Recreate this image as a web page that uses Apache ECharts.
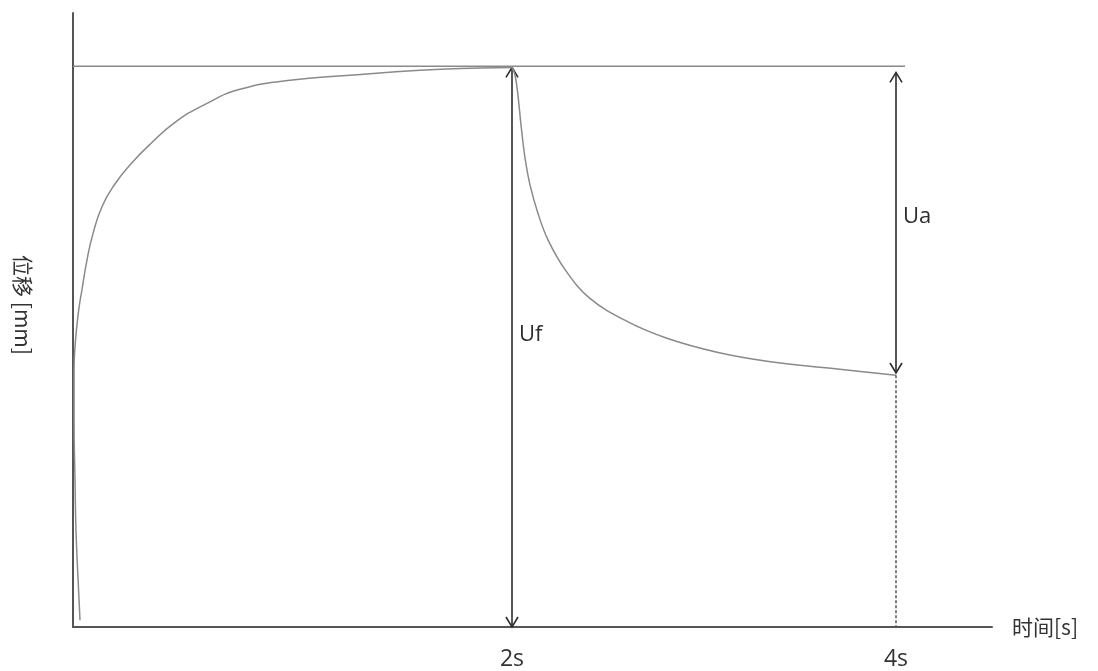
<!DOCTYPE html>
<html>
<head>
<meta charset="utf-8">
<script src="https://cdn.jsdelivr.net/npm/echarts@6/dist/echarts.min.js"></script>
<style>
  html, body { margin: 0; padding: 0; background: #fff; }
  #chart { width: 1098px; height: 671px; }
</style>
</head>
<body>
<div id="chart"></div>
<script>
// time in s, displacement in arbitrary mm units (sketch)
const loadT = [-0.250, -0.260, -0.271, -0.276, -0.281, -0.281, -0.276, -0.266, -0.255, -0.240, -0.214, -0.182, -0.135, -0.068, 0.010, 0.115, 0.245, 0.401, 0.583, 0.844, 1.156, 1.521, 1.833, 2.0]
const loadU = [0.12, 0.84, 1.73, 2.62, 3.69, 4.58, 4.99, 5.38, 5.70, 6.01, 6.54, 7.02, 7.50, 7.90, 8.24, 8.61, 9.00, 9.32, 9.59, 9.75, 9.84, 9.93, 9.97, 9.98]

const unloadT = [2.0, 2.016, 2.031, 2.047, 2.068, 2.094, 2.135, 2.188, 2.281, 2.406, 2.599, 2.807, 3.068, 3.328, 3.672, 4.0]
const unloadU = [9.98, 9.84, 9.48, 8.95, 8.36, 7.88, 7.38, 6.90, 6.35, 5.86, 5.45, 5.15, 4.90, 4.74, 4.61, 4.49]

const maxLineT = [-0.2865, 4.047]
const maxLineU = [10.0, 10.0]

// arrows: [t, from, to, label y]
const arrowNames = ['Uf', 'Ua']
const arrowT = [2.0, 4.0]
const arrowFrom = [0.0, 4.53]
const arrowTo = [9.98, 9.89]
const arrowLabelU = [5.22, 7.31]

const guideT = [4.0, 4.0]
const guideU = [4.49, 0]

const xTickValues = [2, 4]
const xTickLabels = ['2s', '4s']

const zip = (a, b) => a.map((v, i) => [v, b[i]])

const chart = echarts.init(document.getElementById('chart'))

function renderArrow(params, api) {
  const p0 = api.coord([api.value(0), api.value(1)])
  const p1 = api.coord([api.value(0), api.value(2)])
  const pl = api.coord([api.value(0), api.value(3)])
  const hw = 6, hl = 10
  const st = { stroke: '#2e2e2e', lineWidth: 1.6, fill: null }
  return {
    type: 'group',
    children: [
      { type: 'line', shape: { x1: p0[0], y1: p0[1], x2: p1[0], y2: p1[1] }, style: st },
      { type: 'polyline', shape: { points: [[p0[0] - hw, p0[1] - hl], [p0[0], p0[1]], [p0[0] + hw, p0[1] - hl]] }, style: st },
      { type: 'polyline', shape: { points: [[p1[0] - hw, p1[1] + hl], [p1[0], p1[1]], [p1[0] + hw, p1[1] + hl]] }, style: st },
      {
        type: 'text',
        x: pl[0] + 7, y: pl[1],
        style: {
          text: arrowNames[params.dataIndex],
          fontFamily: 'Open Sans', fontSize: 22, fill: '#2e2e2e',
          verticalAlign: 'middle', align: 'left'
        }
      }
    ]
  }
}

const option = {
  animation: false,
  backgroundColor: '#fff',
  grid: { left: 73, right: 106, top: 13, bottom: 44 },
  xAxis: {
    type: 'value',
    min: -0.2865,
    max: 4.5,
    name: '时间[s]',
    nameLocation: 'end',
    nameGap: 20,
    nameTextStyle: { fontFamily: 'Noto Sans CJK SC', fontSize: 21, color: '#333', verticalAlign: 'middle' },
    axisLine: { show: true, onZero: false, lineStyle: { color: '#555', width: 2 } },
    axisTick: { show: false },
    splitLine: { show: false },
    axisLabel: {
      customValues: xTickValues,
      formatter: v => xTickLabels[xTickValues.indexOf(v)] || '',
      margin: 21,
      fontFamily: 'Open Sans',
      fontSize: 23,
      color: '#333'
    }
  },
  yAxis: {
    type: 'value',
    min: 0,
    max: 10.95,
    name: '位移 [mm]',
    nameLocation: 'middle',
    nameRotate: -90,
    nameGap: 40,
    nameTextStyle: { fontFamily: 'Noto Sans CJK SC', fontSize: 21, color: '#333', padding: [0, 30, 0, 0] },
    axisLine: { show: true, onZero: false, lineStyle: { color: '#555', width: 2 } },
    axisTick: { show: false },
    axisLabel: { show: false },
    splitLine: { show: false }
  },
  series: [
    {
      type: 'line',
      data: zip(maxLineT, maxLineU),
      symbol: 'none',
      lineStyle: { color: '#8a8a8a', width: 1.5 }
    },
    {
      type: 'line',
      data: zip(loadT, loadU),
      symbol: 'none',
      smooth: 0.5,
      lineStyle: { color: '#8a8a8a', width: 1.5 }
    },
    {
      type: 'line',
      data: zip(unloadT, unloadU),
      symbol: 'none',
      smooth: 0.4,
      lineStyle: { color: '#8a8a8a', width: 1.5 }
    },
    {
      type: 'line',
      data: zip(guideT, guideU),
      symbol: 'none',
      lineStyle: { color: '#555', width: 1.5, type: [3, 2] }
    },
    {
      type: 'custom',
      renderItem: renderArrow,
      data: arrowT.map((t, i) => [t, arrowFrom[i], arrowTo[i], arrowLabelU[i]])
    }
  ]
}

chart.setOption(option)
</script>
</body>
</html>
